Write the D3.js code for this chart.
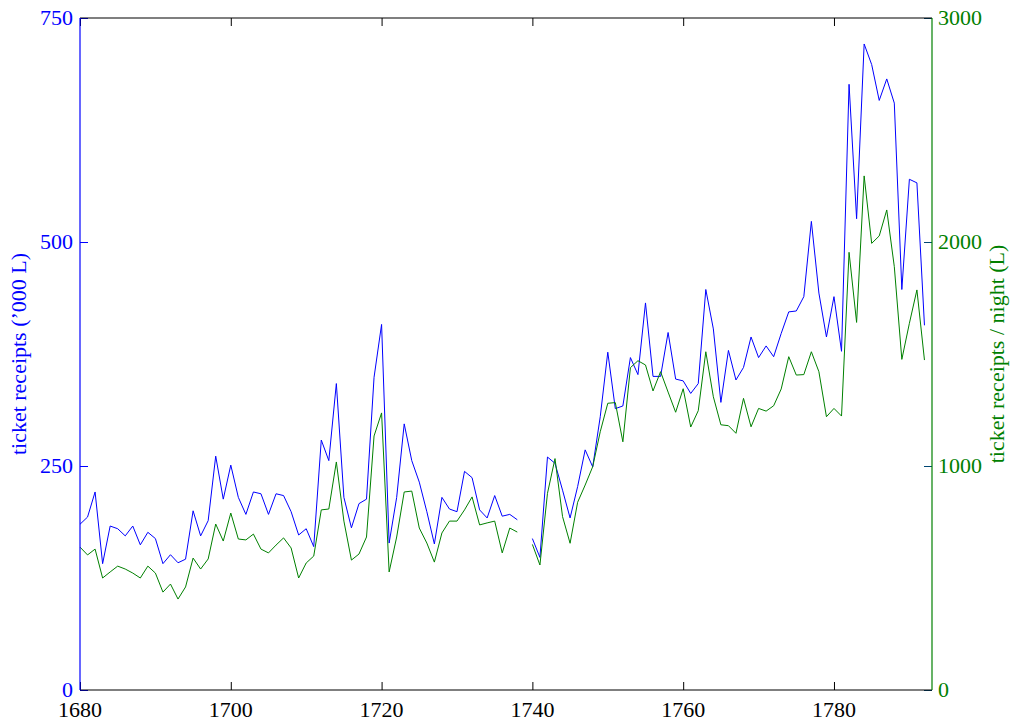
<!DOCTYPE html>
<html>
<head>
<meta charset="utf-8">
<script src="https://cdn.jsdelivr.net/npm/d3@7"></script>
<style>
  body { margin: 0; background: #fff; }
  svg text { font-family: "Liberation Serif", "DejaVu Serif", serif; }
</style>
</head>
<body>
<div id="chart-area"></div>
<script>
// years on the x axis, 1739 has no data (gap in both lines)
var years = d3.range(1680, 1793);

// ticket receipts ('000 L), left axis
var receipts = [
  185, 193, 221, 141, 183, 180, 172, 183, 162, 176,
  169, 141, 151, 142, 146, 200, 172, 189, 261, 213,
  251, 215, 196, 221, 219, 196, 219, 217, 199, 173,
  180, 160, 279, 256, 342, 215, 181, 208, 213, 349,
  408, 164, 215, 297, 256, 232, 199, 163, 215, 202,
  199, 244, 237, 201, 192, 217, 194, 196, 190, null,
  169, 148, 260, 253, 223, 192, 227, 268, 249, 305,
  377, 314, 317, 371, 352, 432, 350, 350, 399, 347,
  345, 331, 342, 447, 403, 321, 379, 346, 360, 394,
  371, 384, 372, 398, 422, 423, 439, 523, 443, 394,
  439, 378, 676, 526, 721, 698, 658, 682, 655, 447,
  570, 566, 407
];

// ticket receipts / night (L), right axis
var perNight = [
  638, 603, 629, 500, 527, 553, 540, 522, 500, 553,
  522, 437, 473, 406, 460, 589, 540, 585, 741, 665,
  790, 674, 670, 696, 629, 612, 647, 679, 634, 500,
  567, 598, 804, 808, 1018, 754, 580, 607, 683, 1134,
  1237, 527, 683, 884, 888, 723, 656, 571, 701, 754,
  754, 804, 862, 737, 746, 754, 612, 723, 705, null,
  650, 558, 878, 1033, 774, 655, 838, 915, 997, 1153,
  1280, 1283, 1108, 1439, 1470, 1451, 1335, 1421, 1330, 1240,
  1345, 1174, 1247, 1510, 1309, 1184, 1180, 1146, 1302, 1175,
  1257, 1245, 1269, 1344, 1488, 1406, 1408, 1510, 1421, 1220,
  1257, 1223, 1954, 1641, 2295, 1994, 2027, 2143, 1890, 1476,
  1637, 1786, 1473
];

var xTicks = [1680, 1700, 1720, 1740, 1760, 1780];
var leftTicks = [0, 250, 500, 750];
var rightTicks = [0, 1000, 2000, 3000];

var blue = "#0000ff", green = "#008000";

var margin = { left: 80, right: 82, top: 18, bottom: 33 };
var width = 1014 - margin.left - margin.right,
    height = 723 - margin.top - margin.bottom;

var svg = d3.select("#chart-area")
  .append("svg")
    .attr("width", 1014)
    .attr("height", 723);

var g = svg.append("g")
    .attr("transform", "translate(" + margin.left + "," + margin.top + ")");

var x = d3.scaleLinear().domain([1680, 1793]).range([0, width]);
var yL = d3.scaleLinear().domain([0, 750]).range([height, 0]);
var yR = d3.scaleLinear().domain([0, 3000]).range([height, 0]);

// lines
var lineL = d3.line()
  .defined(function(d, i){ return receipts[i] != null; })
  .x(function(d){ return x(d); })
  .y(function(d, i){ return yL(receipts[i]); });

var lineR = d3.line()
  .defined(function(d, i){ return perNight[i] != null; })
  .x(function(d){ return x(d); })
  .y(function(d, i){ return yR(perNight[i]); });

g.append("path")
  .datum(years)
  .attr("fill", "none")
  .attr("stroke", blue)
  .attr("stroke-width", 1)
  .attr("d", lineL);

g.append("path")
  .datum(years)
  .attr("fill", "none")
  .attr("stroke", green)
  .attr("stroke-width", 1)
  .attr("d", lineR);

// bottom axis (ticks inward)
var xB = g.append("g")
  .attr("transform", "translate(0," + height + ")")
  .call(d3.axisTop(x).tickValues(xTicks).tickSize(8).tickFormat(""));
xB.select(".domain").remove();
xB.selectAll("line").attr("stroke", "#000");

g.selectAll(".xlab")
  .data(xTicks)
  .enter().append("text")
    .attr("class", "xlab")
    .attr("x", function(d){ return x(d); })
    .attr("y", height + 27)
    .attr("text-anchor", "middle")
    .attr("font-size", "22px")
    .attr("fill", "#000")
    .text(function(d){ return d; });

// top axis ticks
var xT = g.append("g")
  .call(d3.axisBottom(x).tickValues(xTicks).tickSize(8).tickFormat(""));
xT.select(".domain").remove();
xT.selectAll("line").attr("stroke", "#000");

// left axis ticks (both sides)
var yLa = g.append("g")
  .call(d3.axisRight(yL).tickValues(leftTicks).tickSize(8).tickFormat(""));
yLa.select(".domain").remove();
yLa.selectAll("line").attr("stroke", blue);

var yLb = g.append("g")
  .attr("transform", "translate(" + width + ",0)")
  .call(d3.axisLeft(yL).tickValues(leftTicks).tickSize(8).tickFormat(""));
yLb.select(".domain").remove();
yLb.selectAll("line").attr("stroke", blue);

// right axis ticks
var yRa = g.append("g")
  .attr("transform", "translate(" + width + ",0)")
  .call(d3.axisLeft(yR).tickValues(rightTicks).tickSize(8).tickFormat(""));
yRa.select(".domain").remove();
yRa.selectAll("line").attr("stroke", green).attr("stroke-opacity", 0.55);

g.selectAll(".ylab")
  .data(leftTicks)
  .enter().append("text")
    .attr("class", "ylab")
    .attr("x", -7)
    .attr("y", function(d){ return yL(d); })
    .attr("dy", "0.32em")
    .attr("text-anchor", "end")
    .attr("font-size", "22px")
    .attr("fill", blue)
    .text(function(d){ return d; });

g.selectAll(".rlab")
  .data(rightTicks)
  .enter().append("text")
    .attr("class", "rlab")
    .attr("x", width + 6)
    .attr("y", function(d){ return yR(d); })
    .attr("dy", "0.32em")
    .attr("text-anchor", "start")
    .attr("font-size", "22px")
    .attr("fill", green)
    .text(function(d){ return d; });

// spines
g.append("line").attr("x1", 0).attr("x2", width).attr("y1", 0).attr("y2", 0)
  .attr("stroke", "#000").attr("stroke-width", 1.2);
g.append("line").attr("x1", 0).attr("x2", width).attr("y1", height).attr("y2", height)
  .attr("stroke", "#000").attr("stroke-width", 1.2);
g.append("line").attr("x1", 0).attr("x2", 0).attr("y1", 0).attr("y2", height)
  .attr("stroke", blue).attr("stroke-width", 1.2);
g.append("line").attr("x1", width).attr("x2", width).attr("y1", 0).attr("y2", height)
  .attr("stroke", green).attr("stroke-width", 1.2);

// axis labels
g.append("text")
  .attr("transform", "translate(-54," + (height / 2) + ") rotate(-90)")
  .attr("text-anchor", "middle")
  .attr("font-size", "22px")
  .attr("fill", blue)
  .text("ticket receipts (\u2019000 L)");

g.append("text")
  .attr("transform", "translate(" + (width + 72) + "," + (height / 2) + ") rotate(-90)")
  .attr("text-anchor", "middle")
  .attr("font-size", "22px")
  .attr("fill", green)
  .text("ticket receipts / night (L)");
</script>
</body>
</html>
